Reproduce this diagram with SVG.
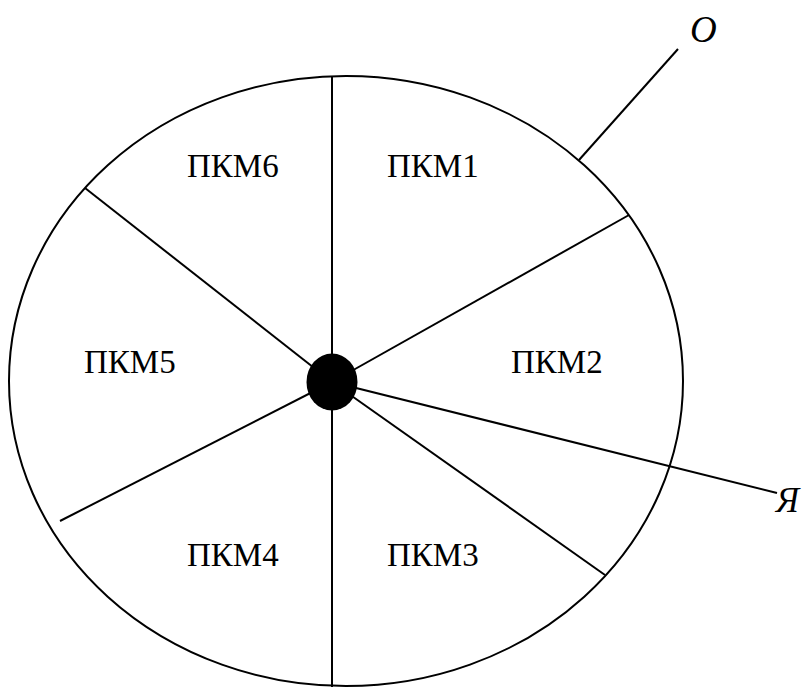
<svg xmlns="http://www.w3.org/2000/svg" width="805" height="687" viewBox="0 0 805 687">
<style>
.ln{stroke:#000;stroke-width:2;fill:none}
.lb{font-family:"Liberation Serif","Times New Roman",serif;font-size:33px;fill:#000}
.it{font-style:italic}
</style>
<rect width="805" height="687" fill="#fff"/>
<g id="circle"><ellipse class="ln" cx="346" cy="381" rx="337" ry="305"/></g>
<g id="connectors">
<line class="ln" x1="332" y1="76" x2="332" y2="687"/>
<line class="ln" x1="332" y1="382" x2="85" y2="188"/>
<line class="ln" x1="332" y1="382" x2="629" y2="215"/>
<line class="ln" x1="332" y1="382" x2="60" y2="521"/>
<line class="ln" x1="332" y1="382" x2="605" y2="575"/>
<line class="ln" x1="332" y1="382" x2="777" y2="493"/>
<line class="ln" x1="579" y1="160" x2="678" y2="49"/>
</g>
<g id="hub"><ellipse cx="332" cy="382" rx="25.5" ry="28.5" fill="#000"/></g>
<g id="pkm6"><text class="lb" x="187" y="177">ПКМ6</text></g>
<g id="pkm1"><text class="lb" x="387" y="177">ПКМ1</text></g>
<g id="pkm5"><text class="lb" x="84" y="373">ПКМ5</text></g>
<g id="pkm2"><text class="lb" x="511" y="373">ПКМ2</text></g>
<g id="pkm4"><text class="lb" x="187" y="566">ПКМ4</text></g>
<g id="pkm3"><text class="lb" x="387" y="566">ПКМ3</text></g>
<g id="labelO"><text class="lb it" x="690" y="42" style="font-size:37px">O</text></g>
<g id="labelYa"><text class="lb it" x="776" y="512" style="font-size:35px">Я</text></g>
</svg>
